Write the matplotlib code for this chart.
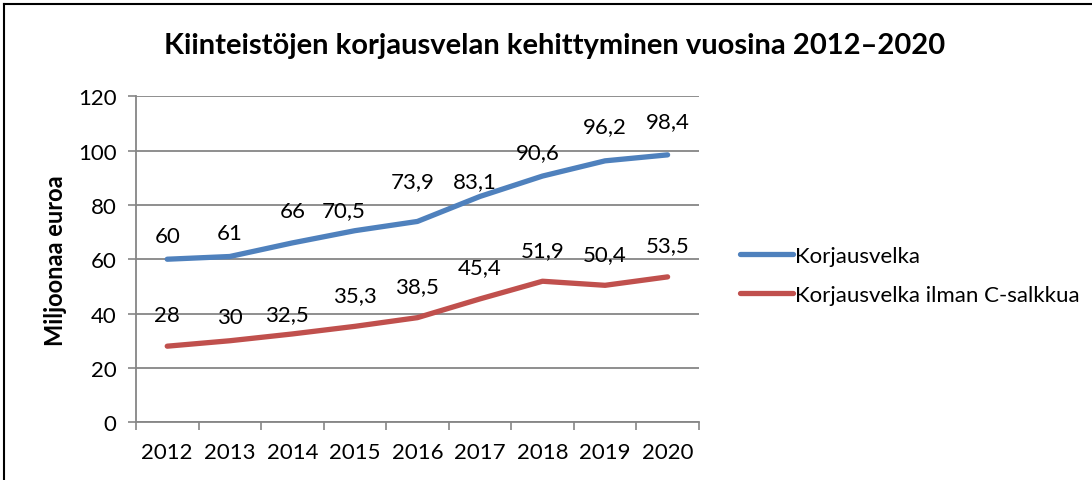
import matplotlib.pyplot as plt
from matplotlib.lines import Line2D
from matplotlib.ticker import FixedLocator

plt.rcParams['font.family'] = ['Lato', 'DejaVu Sans']

years = ["2012", "2013", "2014", "2015", "2016", "2017", "2018", "2019", "2020"]
korjausvelka = [60, 61, 66, 70.5, 73.9, 83.1, 90.6, 96.2, 98.4]
ilman_c = [28, 30, 32.5, 35.3, 38.5, 45.4, 51.9, 50.4, 53.5]

# label nudges (pixels) as the labels sit in the original chart
blue_offsets = [(0, 23), (0, 24), (0, 32), (-11, 21), (-5, 40), (-5, 15), (-5, 24), (0, 35), (0, 34)]
red_offsets = [(0, 31), (0, 24), (-5, 20), (0, 31), (0, 32), (0, 32), (0, 31), (0, 31), (0, 32)]

blue = "#4F81BD"
red = "#C0504D"
grid_gray = "#868686"

fig = plt.figure(figsize=(10.92, 4.81), dpi=100)
ax = fig.add_axes([0.1245, 0.120, 0.5155, 0.678])

x = list(range(len(years)))
ax.plot(x, korjausvelka, color=blue, lw=3.8, solid_capstyle="round",
        solid_joinstyle="round", label="Korjausvelka")
ax.plot(x, ilman_c, color=red, lw=3.8, solid_capstyle="round",
        solid_joinstyle="round", label="Korjausvelka ilman C-salkkua")

px2pt = 72 / 100
for xi, v, off in zip(x, korjausvelka, blue_offsets):
    ax.annotate(f"{v:g}".replace(".", ","), (xi, v),
                xytext=(off[0] * px2pt, off[1] * px2pt), textcoords="offset points",
                ha="center", va="center", fontsize=16)
for xi, v, off in zip(x, ilman_c, red_offsets):
    ax.annotate(f"{v:g}".replace(".", ","), (xi, v),
                xytext=(off[0] * px2pt, off[1] * px2pt), textcoords="offset points",
                ha="center", va="center", fontsize=16)

ax.set_xlim(-0.5, len(years) - 0.5)
ax.set_ylim(0, 120)
ax.set_yticks(range(0, 121, 20))
ax.set_xticks(x)
ax.set_xticklabels(years)
ax.xaxis.set_minor_locator(FixedLocator([i - 0.5 for i in range(len(years) + 1)]))
ax.tick_params(axis="x", which="major", length=0, labelsize=16, pad=14)
ax.tick_params(axis="x", which="minor", length=6, width=1.2, color=grid_gray)
ax.tick_params(axis="y", length=6, width=1.2, color=grid_gray, labelsize=16, pad=8)

ax.grid(axis="y", color=grid_gray, lw=1.3)
ax.set_axisbelow(True)
for s in ["top", "right"]:
    ax.spines[s].set_visible(False)
for s in ["left", "bottom"]:
    ax.spines[s].set_color(grid_gray)
    ax.spines[s].set_linewidth(1.3)

ax.set_ylabel("Miljoonaa euroa", fontsize=17, fontweight="bold", labelpad=8)

fig.suptitle("Kiinteistöjen korjausvelan kehittyminen vuosina 2012\u20132020",
             x=0.508, y=0.932, fontsize=21, fontweight="bold")

ax.legend(loc="center left", bbox_to_anchor=(0.659, 0.426), bbox_transform=fig.transFigure,
          frameon=False, fontsize=16, handlelength=2.4, handletextpad=0.1,
          labelspacing=0.85)

# chart border (left and top visible in the original)
fig.add_artist(Line2D([0.004, 0.004], [0, 0.99], transform=fig.transFigure, color="black", lw=1.5))
fig.add_artist(Line2D([0.004, 1], [0.99, 0.99], transform=fig.transFigure, color="black", lw=1.5))

fig.savefig("out.png", dpi=100)
